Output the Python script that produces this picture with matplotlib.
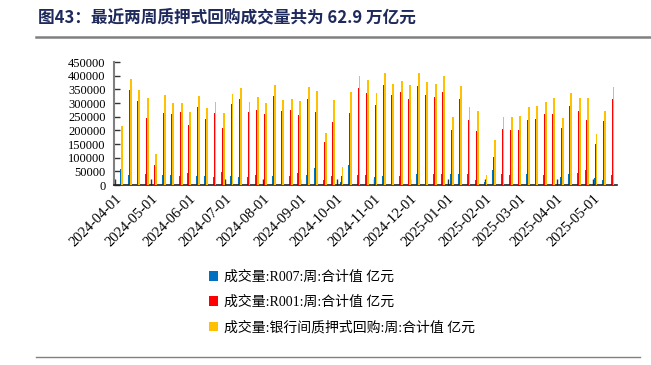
import numpy as np
import pandas as pd
import matplotlib
matplotlib.use("Agg")
import matplotlib.pyplot as plt
import matplotlib.dates as mdates
from matplotlib.patches import Patch
from matplotlib.lines import Line2D

# ── data (weekly, 亿元) ──────────────────────────────────────────────────────
dates = pd.date_range("2024-04-07", periods=59, freq="7D")

total_repo = [
    216000, 388000, 348000, 320000, 113000, 329000, 299000, 302000, 268000, 326000,
    281000, 305000, 265000, 333000, 354000, 305000, 322000, 299000, 365000, 311000,
    316000, 306000, 357000, 344000, 190000, 311000, 67000, 340000, 398000, 384000,
    337000, 409000, 371000, 381000, 366000, 409000, 376000, 370000, 399000, 248000,
    364000, 285000, 271000, 37000, 165000, 250000, 249000, 251000, 287000, 289000,
    303000, 320000, 245000, 336000, 317000, 318000, 187000, 272000, 357000,
]
r001 = [
    145000, 348000, 307000, 246000, 73000, 262000, 260000, 266000, 220000, 287000,
    242000, 265000, 210000, 296000, 316000, 268000, 276000, 259000, 326000, 271000,
    275000, 256000, 316000, 268000, 156000, 232000, 33000, 262000, 355000, 338000,
    293000, 366000, 329000, 340000, 316000, 364000, 329000, 323000, 342000, 200000,
    316000, 237000, 198000, 15000, 104000, 206000, 203000, 200000, 238000, 242000,
    259000, 260000, 209000, 289000, 271000, 238000, 149000, 234000, 316000,
]
r007 = [
    58000, 36000, 36000, 40000, 35000, 38000, 36000, 32000, 45000, 34000,
    32000, 30000, 49000, 32000, 30000, 30000, 35000, 37000, 34000, 36000,
    33000, 45000, 35000, 61000, 18000, 33000, 12000, 73000, 37000, 37000,
    30000, 34000, 37000, 33000, 49000, 40000, 40000, 40000, 40000, 42000,
    40000, 40000, 18000, 10000, 55000, 40000, 37000, 35000, 39000, 43000,
    37000, 49000, 30000, 40000, 43000, 55000, 27000, 18000, 37000,
]

labels = [
    "成交量:R007:周:合计值 亿元",
    "成交量:R001:周:合计值 亿元",
    "成交量:银行间质押式回购:周:合计值 亿元",
]
colors = ["#0070C0", "#FF0000", "#FFC000"]

plt.rcParams["font.family"] = ["Liberation Serif", "Noto Sans CJK SC", "DejaVu Sans"]

# ── figure ────────────────────────────────────────────────────────────────────
fig = plt.figure(figsize=(6.51, 3.65), dpi=100)
ax = fig.add_axes([0.175, 0.493, 0.773, 0.337])

w = 1.5
ax.bar(dates - pd.Timedelta(days=1.5), r007, width=w, color=colors[0], zorder=2)
ax.bar(dates - pd.Timedelta(days=0.8), r001, width=w, color=colors[1], zorder=3)
ax.bar(dates, total_repo, width=w, color=colors[2], zorder=4)

ax.set_ylim(0, 450000)
ax.set_yticks(np.arange(0, 450001, 50000))
ax.set_xlim(pd.Timestamp("2024-03-31"), pd.Timestamp("2025-05-21"))
ax.xaxis.set_major_locator(mdates.MonthLocator())
ax.xaxis.set_major_formatter(mdates.DateFormatter("%Y-%m-%d"))

ax.tick_params(axis="y", labelsize=9, pad=6)
ax.tick_params(axis="x", labelsize=10.5, pad=5, labelrotation=45)
for lbl in ax.get_xticklabels():
    lbl.set_ha("right")
    lbl.set_rotation_mode("anchor")

ax.tick_params(axis="both", direction="in", length=4, width=1, color="#333333")
for side in ("top", "right"):
    ax.spines[side].set_visible(False)
ax.spines["left"].set_color("#808080")
ax.spines["left"].set_linewidth(1.5)
ax.spines["bottom"].set_color("#222222")
ax.spines["bottom"].set_linewidth(1.2)

# legend
handles = [Patch(facecolor=c, edgecolor="none") for c in colors]
fig.legend(handles, labels, loc="upper left",
           bbox_to_anchor=(203 / 651, 1 - 265 / 365), frameon=False,
           handlelength=0.7, handleheight=0.7, handletextpad=0.4,
           labelspacing=0.85, borderaxespad=0, fontsize=10)

# title and rules
fig.text(38 / 651, 1 - 17 / 365, "图43：最近两周质押式回购成交量共为 62.9 万亿元",
         family=["Noto Sans CJK SC"], fontweight="bold", fontsize=12,
         color="#1F2A5C", ha="left", va="center")
fig.add_artist(Line2D([36 / 651, 1.0], [1 - 37 / 365] * 2, color="#808080",
                      linewidth=1.8, transform=fig.transFigure))
fig.add_artist(Line2D([36 / 651, 640 / 651], [1 - 357 / 365] * 2, color="#808080",
                      linewidth=1.0, transform=fig.transFigure))

fig.savefig("out.png", dpi=100)
plt.close(fig)
